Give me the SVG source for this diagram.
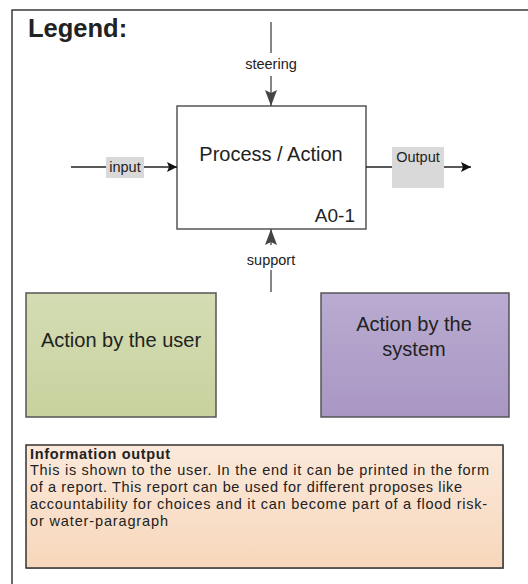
<svg xmlns="http://www.w3.org/2000/svg" width="528" height="584" viewBox="0 0 528 584">
<defs>
<linearGradient id="gGreen" x1="0" y1="0" x2="0" y2="1"><stop offset="0" stop-color="#d4ddb3"/><stop offset="1" stop-color="#c8d29e"/></linearGradient>
<linearGradient id="gPurple" x1="0" y1="0" x2="0" y2="1"><stop offset="0" stop-color="#b9abd1"/><stop offset="1" stop-color="#a997c3"/></linearGradient>
<linearGradient id="gPeach" x1="0" y1="0" x2="0" y2="1"><stop offset="0" stop-color="#fbe9db"/><stop offset="1" stop-color="#f7d7bb"/></linearGradient>
<marker id="arr" viewBox="0 0 10 10" refX="10" refY="5" markerWidth="10" markerHeight="10" markerUnits="userSpaceOnUse" orient="auto"><path d="M0,0 L10,5 L0,10 L2,5 z" fill="#111"/></marker>
<marker id="arrBig" viewBox="0 0 16 12" refX="16" refY="6" markerWidth="16" markerHeight="12" markerUnits="userSpaceOnUse" orient="auto"><path d="M0,0 L16,6 L0,12 L3,6 z" fill="#444"/></marker>
</defs>
<style>
text{font-family:"Liberation Sans",Arial,sans-serif;fill:#222}
.line{stroke:#222;stroke-width:1.3;fill:none}
.vline{stroke:#444;stroke-width:1.3;fill:none}
.box{stroke:#555;stroke-width:1.5}
.lbl{font-size:14.5px;text-anchor:middle}
.big{font-size:20px;text-anchor:middle}
.body{font-size:14.5px}
</style>
<rect x="12" y="10" width="540" height="600" fill="#fff" stroke="#3a3a3a" stroke-width="1.5"/>
<text x="28" y="37" font-size="25.5" font-weight="bold" fill="#111">Legend:</text>

<g id="process">
<rect class="box" x="177" y="106" width="189" height="123" fill="#fff"/>
<text class="big" x="271" y="161" font-size="21">Process / Action</text>
<text x="355" y="222" font-size="19" text-anchor="end">A0-1</text>
</g>

<g id="connectors">
<line class="vline" x1="271" y1="22" x2="271" y2="53"/>
<text class="lbl" x="271" y="69">steering</text>
<line class="vline" x1="271" y1="76" x2="271" y2="106" marker-end="url(#arrBig)"/>

<line class="line" x1="71" y1="167" x2="177" y2="167" marker-end="url(#arr)"/>
<rect x="106" y="157" width="38" height="21" fill="#d9d9d9"/>
<text class="lbl" x="125" y="172">input</text>

<line class="line" x1="366" y1="167" x2="471" y2="167" marker-end="url(#arr)"/>
<rect x="392" y="147" width="52" height="41" fill="#d9d9d9"/>
<text class="lbl" x="418" y="162">Output</text>

<line class="vline" x1="271" y1="270" x2="271" y2="292"/>
<text class="lbl" x="271" y="265">support</text>
<line class="vline" x1="271" y1="245" x2="271" y2="229" marker-end="url(#arrBig)"/>
</g>

<g id="user">
<rect class="box" x="26" y="293" width="190" height="124" fill="url(#gGreen)"/>
<text class="big" x="121" y="347">Action by the user</text>
</g>

<g id="system">
<rect class="box" x="321" y="293" width="188" height="124" fill="url(#gPurple)"/>
<text class="big" x="414" y="331">Action by the</text>
<text class="big" x="414" y="356">system</text>
</g>

<g id="info">
<rect x="27" y="446" width="477" height="123" fill="#666" opacity="0.5"/>
<rect x="26" y="445" width="477" height="123" fill="url(#gPeach)" stroke="#333" stroke-width="1.5"/>
<text class="body" x="30" y="459" font-size="14" font-weight="bold" fill="#111" textLength="140" lengthAdjust="spacing">Information output</text>
<text class="body" x="30" y="475" textLength="459" lengthAdjust="spacing">This is shown to the user. In the end it can be printed in the form</text>
<text class="body" x="30" y="492" textLength="432" lengthAdjust="spacing">of a report. This report can be used for different proposes like</text>
<text class="body" x="30" y="509" textLength="457" lengthAdjust="spacing">accountability for choices and it can become part of a flood risk-</text>
<text class="body" x="30" y="526" textLength="138" lengthAdjust="spacing">or water-paragraph</text>
</g>
</svg>
